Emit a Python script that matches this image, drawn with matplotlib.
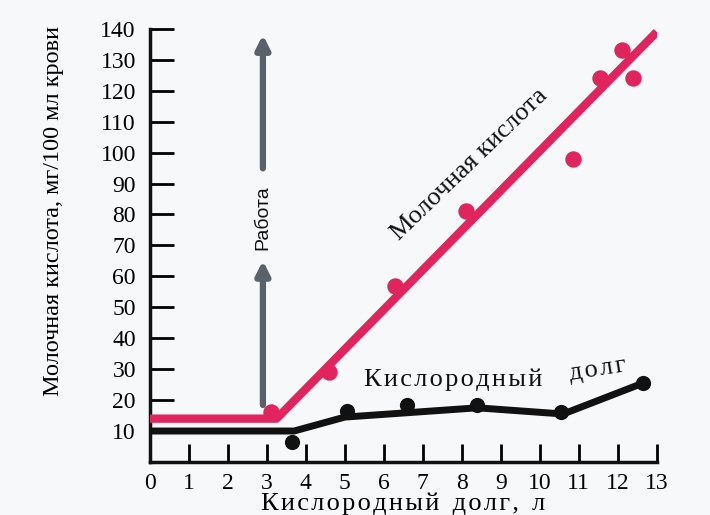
#Молочная кислота и кислородный долг
import matplotlib
matplotlib.use('Agg')
from matplotlib import pyplot as plt

# молочная кислота: линия и точки
lactic_line_x = [0, 3.25, 13]
lactic_line_y = [14, 14, 139]
lactic_pts_x = [3.1, 4.6, 6.3, 8.1, 10.85, 11.55, 12.1, 12.4]
lactic_pts_y = [16, 29, 57, 81, 98, 124, 133, 124]

# кислородный долг: линия и точки
oxy_line_x = [0, 3.7, 5.0, 8.4, 10.6, 12.65]
oxy_line_y = [10, 10, 14.5, 17.5, 15.5, 25.5]
oxy_pts_x = [3.65, 5.05, 6.6, 8.4, 10.55, 12.65]
oxy_pts_y = [6.5, 16.5, 18.5, 18.5, 16, 25.5]

x_ticks = list(range(0, 14))
y_ticks = list(range(10, 150, 10))

pink = '#e1245e'
dark = '#111111'
gray = '#59626a'
serif = ['Liberation Serif', 'DejaVu Serif']
sp = '\u200a'  # узкий пробел для разрядки

fig = plt.figure(figsize=(7.1, 5.15), dpi=100, facecolor='#f7f8f9')
ax = fig.add_axes([0.211, 0.103, 0.714, 0.841])
ax.set_facecolor('#f7f8f9')

ax.plot(lactic_line_x, lactic_line_y, color=pink, lw=6, solid_capstyle='butt', zorder=3)
ax.scatter(lactic_pts_x, lactic_pts_y, s=140, color=pink, zorder=4, linewidths=0)
ax.plot(oxy_line_x, oxy_line_y, color=dark, lw=5, solid_joinstyle='round', zorder=3)
ax.scatter(oxy_pts_x, oxy_pts_y, s=120, color=dark, zorder=4, linewidths=0)

# стрелки "Работа"
arrow = dict(arrowstyle='-|>,head_width=0.4,head_length=0.8', color=gray, lw=4.5)
ax.annotate('', xy=(2.9, 139), xytext=(2.9, 94), arrowprops=arrow)
ax.annotate('', xy=(2.9, 66), xytext=(2.9, 17.5), arrowprops=arrow)
ax.text(2.9, 79, 'Работа', rotation=90, ha='center', va='center',
        fontsize=14, family=['Liberation Sans', 'DejaVu Sans'], color=dark)

ax.text(8.2, 96, 'Молочная кислота', rotation=44, ha='center', va='center',
        fontsize=19, family=serif, color=dark)
ax.text(5.5, 26.5, sp.join('Кислородный'), ha='left', va='center', fontsize=19,
        family=serif, color=dark)
ax.text(10.7, 30, sp.join('долг'), rotation=9, ha='left', va='center', fontsize=19,
        family=serif, color=dark)

ax.set_xlim(0, 13)
ax.set_ylim(0, 140)
ax.set_xticks(x_ticks)
ax.set_yticks(y_ticks)
ax.tick_params(axis='x', direction='in', length=13, width=2, pad=8, labelsize=17)
ax.tick_params(axis='y', direction='in', length=17, width=2, pad=10, labelsize=17)
for lab in ax.get_xticklabels() + ax.get_yticklabels():
    lab.set_family(serif)
for s in ['top', 'right']:
    ax.spines[s].set_visible(False)
for s in ['left', 'bottom']:
    ax.spines[s].set_linewidth(2.5)
    ax.spines[s].set_color(dark)

ax.set_xlabel(sp.join('Кислородный') + '  ' + sp.join('долг,') + '  л',
              fontsize=19, family=serif, labelpad=-1)
ax.set_ylabel('Молочная кислота, мг/100 мл крови', fontsize=17.5, family=serif)
ax.yaxis.set_label_coords(-0.17, 0.58)

fig.savefig('out.png', dpi=100, facecolor=fig.get_facecolor())
